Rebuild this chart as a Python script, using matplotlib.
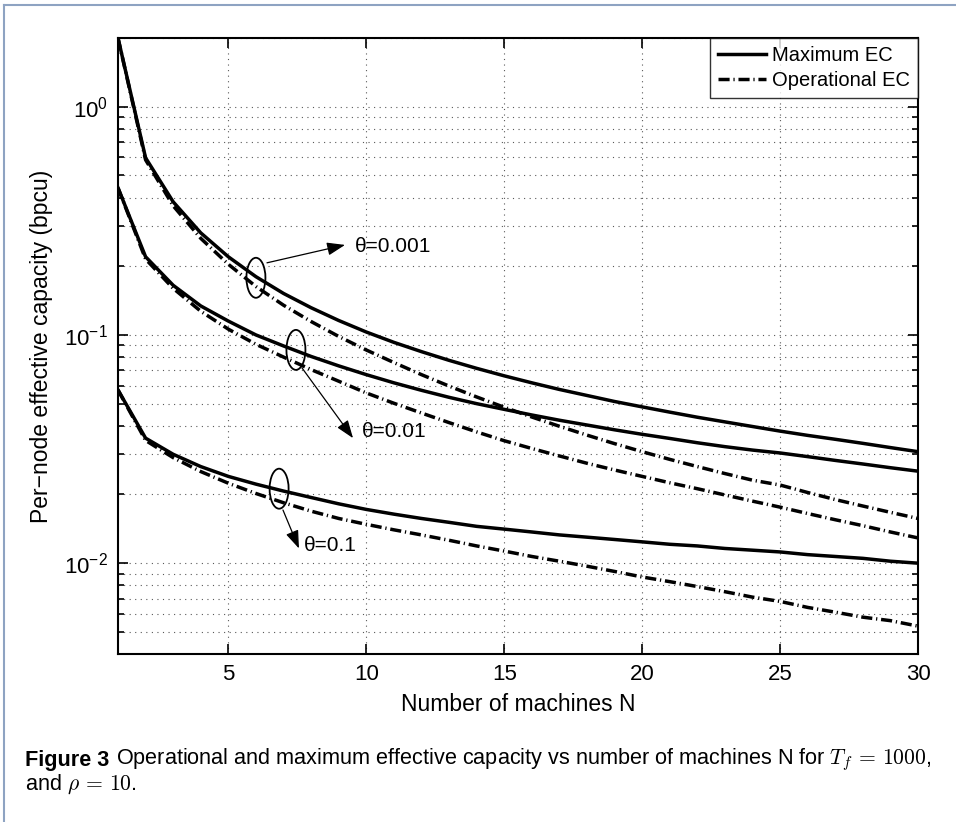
import numpy as np
from matplotlib import pyplot as plt
from matplotlib.patches import Ellipse
from matplotlib.lines import Line2D
from matplotlib.ticker import LogLocator, NullFormatter

plt.rcParams['font.family'] = ['Liberation Sans', 'DejaVu Sans']
plt.rcParams['mathtext.fontset'] = 'cm'
plt.rcParams['axes.unicode_minus'] = True

# number of machines
N = list(range(1, 31))

# theta = 0.001
max_001 = [2.0, 0.597, 0.383, 0.28, 0.22, 0.18, 0.152, 0.1316, 0.1157, 0.103,
           0.0928, 0.0845, 0.0774, 0.0714, 0.0662, 0.0617, 0.0577, 0.0543, 0.0511, 0.0484,
           0.0459, 0.0436, 0.0416, 0.0397, 0.0379, 0.0363, 0.0349, 0.0335, 0.0321, 0.0308]
op_001 = [2.0, 0.585, 0.368, 0.265, 0.204, 0.163, 0.135, 0.1145, 0.0985, 0.0859,
          0.0757, 0.0670, 0.0597, 0.0535, 0.0482, 0.0437, 0.0398, 0.0364, 0.0334, 0.0308,
          0.0285, 0.0265, 0.0247, 0.0231, 0.0220, 0.0204, 0.0190, 0.0178, 0.0167, 0.0157]
# theta = 0.01
max_01 = [0.441, 0.22, 0.165, 0.134, 0.115, 0.100, 0.0895, 0.0805, 0.0732, 0.0670,
          0.0617, 0.0572, 0.0533, 0.0500, 0.0472, 0.0446, 0.0423, 0.0403, 0.0384, 0.0367,
          0.0352, 0.0337, 0.0324, 0.0313, 0.0304, 0.0293, 0.0282, 0.0272, 0.0262, 0.0253]
op_01 = [0.441, 0.215, 0.16, 0.127, 0.106, 0.091, 0.080, 0.0705, 0.0627, 0.0557,
         0.0502, 0.0455, 0.0413, 0.0376, 0.0344, 0.0318, 0.0295, 0.0274, 0.0256, 0.0240,
         0.0225, 0.0212, 0.0199, 0.0187, 0.0176, 0.0165, 0.0155, 0.0146, 0.0137, 0.0129]
# theta = 0.1
max_1 = [0.0574, 0.0353, 0.0300, 0.0265, 0.0240, 0.0222, 0.0207, 0.0194, 0.0182, 0.0172,
         0.0164, 0.0157, 0.0151, 0.0145, 0.0141, 0.0137, 0.0133, 0.0130, 0.0127, 0.0124,
         0.0121, 0.0119, 0.0116, 0.0114, 0.0112, 0.0109, 0.0107, 0.0105, 0.0102, 0.0100]
op_1 = [0.0574, 0.0345, 0.0290, 0.0252, 0.0224, 0.0202, 0.0184, 0.0169, 0.0157, 0.0148,
        0.0140, 0.0133, 0.0126, 0.0119, 0.0113, 0.0107, 0.0102, 0.0097, 0.0092, 0.0087,
        0.0083, 0.0079, 0.0075, 0.0071, 0.0068, 0.0064, 0.0061, 0.0058, 0.0056, 0.0053]

fig = plt.figure(figsize=(9.56, 8.22), dpi=100)
ax = fig.add_axes([118/956, 1-654/822, 800/956, 616/822])

lw = 2.5
dd = (3.2, 1.1, 0.35, 1.1)
ax.plot(N, max_001, 'k-', lw=lw, label='Maximum EC')
ax.plot(N, op_001, 'k', lw=lw, dashes=dd, label='Operational EC')
ax.plot(N, max_01, 'k-', lw=lw)
ax.plot(N, op_01, 'k', lw=lw, dashes=dd)
ax.plot(N, max_1, 'k-', lw=lw)
ax.plot(N, op_1, 'k', lw=lw, dashes=dd)

ax.set_yscale('log')
ax.set_xlim(1, 30)
ax.set_ylim(0.004, 2.0)
ax.set_xticks([5, 10, 15, 20, 25, 30])
ax.yaxis.set_minor_locator(LogLocator(base=10, subs=np.arange(2, 10)))
ax.yaxis.set_minor_formatter(NullFormatter())
ax.grid(True, which='major', linestyle=(0, (1, 4)), color='0.35', lw=0.8)
ax.grid(True, which='minor', axis='y', linestyle=(0, (1, 4)), color='0.35', lw=0.8)
ax.tick_params(which='both', direction='in', top=True, right=True, labelsize=16, width=1.2)
ax.tick_params(which='major', length=7, pad=7)
ax.tick_params(which='minor', length=4)
for s in ax.spines.values():
    s.set_linewidth(1.5)

ax.set_xlabel('Number of machines N', fontsize=16.5, labelpad=6)
ax.set_ylabel('Per\u2212node effective capacity (bpcu)', fontsize=16.5, labelpad=8)

leg = ax.legend(loc='upper right', fontsize=14.5, frameon=True, fancybox=False,
                borderaxespad=0, handlelength=2.4, handletextpad=0.3,
                borderpad=0.4, labelspacing=0.3)
leg.get_frame().set_edgecolor('k')
leg.get_frame().set_linewidth(1.0)

# ellipses around the curve pairs
to_fig = fig.transFigure.inverted()
for cx, cy in [(6.0, 0.178), (7.45, 0.086), (6.84, 0.0212)]:
    px, py = ax.transData.transform((cx, cy))
    fx, fy = to_fig.transform((px, py))
    e = Ellipse((fx, fy), 19/956, 40/822, transform=fig.transFigure,
                fill=False, ec='k', lw=1.3)
    fig.add_artist(e)

arrow = dict(arrowstyle='-|>,head_length=1.1,head_width=0.4', color='k', lw=0.9,
             shrinkA=0, shrinkB=0)
ax.annotate('', xy=(9.23, 0.248), xytext=(6.40, 0.207), arrowprops=arrow)
ax.text(9.59, 0.243, '\u03b8=0.001', fontsize=15, va='center', ha='left')
ax.annotate('', xy=(9.52, 0.0353), xytext=(7.67, 0.0717), arrowprops=arrow)
ax.text(9.84, 0.0376, '\u03b8=0.01', fontsize=15, va='center', ha='left')
ax.annotate('', xy=(7.56, 0.0116), xytext=(6.98, 0.0171), arrowprops=arrow)
ax.text(7.74, 0.0119, '\u03b8=0.1', fontsize=15, va='center', ha='left')

# figure frame lines (top and left)
fig.add_artist(Line2D([4/956, 4/956], [0, 1-5/822], color='#8ea3c2', lw=1.5))
fig.add_artist(Line2D([4/956, 1], [1-5/822, 1-5/822], color='#8ea3c2', lw=1.5))

# caption
r = fig.canvas.get_renderer()
t1 = fig.text(25/956, 1-760/822, 'Figure 3', fontsize=15.6, fontweight='bold',
              va='center', ha='left')
bb = t1.get_window_extent(renderer=r)
fig.text((bb.x1 + 7)/956, 1-760/822,
         r'Operational and maximum effective capacity vs number of machines N for $T_f\,=\,1000$,',
         fontsize=15.6, va='center', ha='left')
fig.text(25/956, 1-784/822, r'and $\rho\,=\,10$.', fontsize=15.6, va='center', ha='left')

fig.savefig('out.png', dpi=100)
